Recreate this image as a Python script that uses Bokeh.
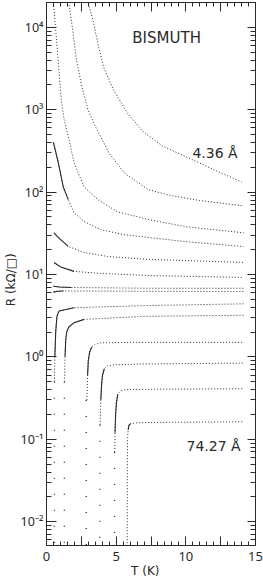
from bokeh.plotting import figure
from bokeh.models import FixedTicker, LinearAxis, LogAxis, Range1d, Label
from bokeh.embed import file_html
from bokeh.resources import INLINE

# ---------------- data ----------------
# temperature T (K) and sheet resistance R (kOhm/square) for each film
c1_T = [2.95, 3.04, 3.33, 3.68, 4.10, 4.81, 5.80, 6.94, 8.35, 9.77, 10.97, 12.4, 14.0]
c1_R = [25000, 18600, 12200, 6400, 3280, 1740, 910, 540, 360, 280, 226, 174, 133]

c2_T = [1.55, 1.63, 1.91, 2.12, 2.48, 2.97, 3.5, 4.5, 5.6, 7.3, 8.9, 11.0, 14.15]
c2_R = [24000, 18600, 8500, 4400, 2100, 1000, 630, 295, 170, 107, 91, 79, 68]

c3_T = [0.45, 0.5, 0.78, 1.06, 1.27, 1.63, 1.98, 2.69, 3.68, 5.1, 7.43, 10.0, 14.15]
c3_R = [30000, 20000, 5200, 1320, 750, 427, 226, 116, 81, 57.5, 46, 38, 32]

c4_T = [0.5, 0.54, 0.85, 1.2, 1.56, 1.98, 2.69, 3.89, 5.52, 7.43, 10.0, 14.15]
c4_R = [400, 374, 226, 116, 81, 56, 44, 35, 30.5, 28, 25, 21.8]

c5_T = [0.54, 0.85, 1.56, 2.69, 4.39, 7.43, 14.15]
c5_R = [32, 28, 21.9, 18.5, 16.5, 15.2, 14]

c6_T = [0.54, 1.06, 1.98, 3.89, 7.43, 14.15]
c6_R = [14, 12.2, 10.9, 10.3, 9.7, 9.2]

c7_T = [0.5, 0.92, 1.77, 7.43, 14.15]
c7_R = [7.2, 7.05, 6.95, 6.8, 6.8]

c8_T = [0.5, 0.78, 1.2, 7.43, 14.15]
c8_R = [6.1, 6.25, 6.3, 6.25, 6.2]

c9_T = [0.57, 0.6, 0.66, 0.75, 0.9, 1.98, 7.43, 14.15]
c9_R = [0.5, 1.0, 2.0, 3.1, 3.6, 3.95, 4.2, 4.4]

c10_T = [1.3, 1.33, 1.38, 1.45, 1.6, 1.98, 2.7, 7.0, 14.15]
c10_R = [0.5, 1.0, 1.6, 2.0, 2.3, 2.6, 2.85, 3.1, 3.2]

c11_T = [2.9, 2.95, 3.0, 3.1, 3.25, 3.5, 3.9, 6.0, 14.15]
c11_R = [0.3, 0.6, 0.9, 1.15, 1.32, 1.42, 1.48, 1.5, 1.5]

c12_T = [3.85, 3.9, 3.95, 4.02, 4.15, 4.4, 4.9, 7.0, 14.15]
c12_R = [0.15, 0.3, 0.45, 0.6, 0.72, 0.78, 0.8, 0.82, 0.84]

c13_T = [4.9, 4.92, 4.96, 5.02, 5.12, 5.3, 5.7, 8.0, 14.15]
c13_R = [0.07, 0.12, 0.2, 0.28, 0.35, 0.385, 0.4, 0.405, 0.41]

c14_T = [5.79, 5.8, 5.82, 5.86, 5.92, 6.05, 6.4, 8.0, 14.15]
c14_R = [0.002, 0.05, 0.1, 0.13, 0.148, 0.155, 0.158, 0.16, 0.163]

# sparse low-temperature tails of the superconducting films
t9_T = [0.57, 0.57]
t9_R = [0.5, 0.002]
t10_T = [1.28, 1.28]
t10_R = [0.5, 0.002]
t11_T = [2.85, 2.85]
t11_R = [0.3, 0.002]
t12_T = [3.82, 3.82]
t12_R = [0.15, 0.002]
t13_T = [4.88, 4.88]
t13_R = [0.07, 0.002]

# ticks and texts
x_ticks = [0, 2.5, 5, 7.5, 10, 12.5, 15]
x_labels = ["0", "", "5", "", "10", "", "15"]
y_ticks = [1e-2, 1e-1, 1, 10, 100, 1000, 1e4]
y_labels = ["10\u207b\u00b2", "10\u207b\u00b9", "10\u2070", "10\u00b9", "10\u00b2", "10\u00b3", "10\u2074"]
x_title = "T  (K)"
y_title = "R (k\u03a9/\u25a1)"
title_text = "BISMUTH"
label_thin = "4.36 \u00c5"
label_thick = "74.27 \u00c5"

# ---------------- styling ----------------
INK = "#2a2a2a"
FONT = "DejaVu Sans"
TICK_FONT = "Noto Sans"
NB = "\u00a0"

curves = [(c1_T, c1_R), (c2_T, c2_R), (c3_T, c3_R), (c4_T, c4_R), (c5_T, c5_R),
          (c6_T, c6_R), (c7_T, c7_R), (c8_T, c8_R), (c9_T, c9_R), (c10_T, c10_R),
          (c11_T, c11_R), (c12_T, c12_R), (c13_T, c13_R), (c14_T, c14_R)]
tails = [(t9_T, t9_R), (t10_T, t10_R), (t11_T, t11_R), (t12_T, t12_R), (t13_T, t13_R)]

# T ranges drawn densely (solid) as in the original trace
DENSE = {4: (0.5, 1.56), 5: (0.54, 1.56), 6: (0.54, 1.98), 7: (0.5, 1.77), 8: (0.5, 1.2),
         9: (0.6, 1.98), 10: (1.33, 2.7), 11: (2.95, 3.25), 12: (3.9, 4.15),
         13: (4.92, 5.12), 14: (5.85, 6.05)}

p = figure(x_range=Range1d(0, 15), y_range=Range1d(5.13e-3, 2.0e4), y_axis_type="log",
           width=263, height=580,
           min_border_left=45, min_border_right=8, min_border_top=2, min_border_bottom=33,
           output_backend="svg", toolbar_location=None)
p.xgrid.visible = False
p.ygrid.visible = False
p.outline_line_color = INK
p.background_fill_color = "white"
p.border_fill_color = "white"

x_minor = [i * 0.5 for i in range(31)]
y_minor = [k * 10.0 ** n for n in range(-3, 5) for k in range(2, 10)]
xt = FixedTicker(ticks=x_ticks, minor_ticks=x_minor)
yt = FixedTicker(ticks=y_ticks, minor_ticks=y_minor)


def style_axis(ax, major, minor):
    ax.axis_line_color = INK
    ax.axis_line_width = 1
    ax.major_tick_line_color = INK
    ax.minor_tick_line_color = INK
    ax.major_tick_in = major
    ax.major_tick_out = 0
    ax.minor_tick_in = minor
    ax.minor_tick_out = 0


xa = p.xaxis[0]
xa.ticker = xt
xa.major_label_overrides = {t: s for t, s in zip(x_ticks, x_labels)}
style_axis(xa, 9, 4)
xa.major_label_text_font = TICK_FONT
xa.major_label_text_font_size = "13px"
xa.major_label_text_color = INK
xa.major_label_standoff = 6
xa.axis_label = x_title + NB * 2
xa.axis_label_text_font = FONT
xa.axis_label_text_font_size = "12px"
xa.axis_label_text_font_style = "normal"
xa.axis_label_text_color = INK
xa.axis_label_standoff = 0

ya = p.yaxis[0]
ya.ticker = yt
ya.major_label_overrides = {t: s for t, s in zip(y_ticks, y_labels)}
style_axis(ya, 10, 5)
ya.major_label_text_font = TICK_FONT
ya.major_label_text_font_size = "12.5px"
ya.major_label_text_color = INK
ya.major_label_standoff = 3
ya.axis_label = y_title + NB * 3
ya.axis_label_text_font = FONT
ya.axis_label_text_font_size = "12px"
ya.axis_label_text_font_style = "normal"
ya.axis_label_text_color = INK
ya.axis_label_standoff = 0

top = LinearAxis(ticker=xt, major_label_text_font_size="0px", major_label_standoff=0)
style_axis(top, 9, 4)
top.major_label_overrides = {t: "" for t in x_ticks}
p.add_layout(top, "above")

right = LogAxis(ticker=yt, major_label_text_font_size="0px", major_label_standoff=0)
style_axis(right, 8, 5)
right.major_label_overrides = {t: "" for t in y_ticks}
p.add_layout(right, "right")

for i, (T, R) in enumerate(curves, start=1):
    p.line(T, R, line_color=INK, line_width=1.0, line_dash="1 2")
    if i in DENSE:
        lo, hi = DENSE[i]
        sel = [(t, r) for t, r in zip(T, R) if lo <= t <= hi]
        p.line([s[0] for s in sel], [s[1] for s in sel], line_color=INK, line_width=1.1)

for T, R in tails:
    p.line(T, R, line_color=INK, line_width=1.3, line_dash="1 15")

# in-plot texts
p.add_layout(Label(x=6.16, y=7360, text=title_text, text_font=FONT, text_font_size="15px",
                   text_color=INK, text_baseline="middle", text_align="left"))
p.add_layout(Label(x=10.47, y=300, text=label_thin, text_font=FONT, text_font_size="14px",
                   text_color=INK, text_baseline="alphabetic", text_align="left"))
p.add_layout(Label(x=10.05, y=0.083, text=label_thick, text_font=FONT, text_font_size="14px",
                   text_color=INK, text_baseline="alphabetic", text_align="left"))

html = file_html(p, INLINE, title="Bismuth R(T)")
html = html.replace("<head>", "<head><style>html,body{margin:0;padding:0;}</style>", 1)
open("out.html", "w").write(html)
